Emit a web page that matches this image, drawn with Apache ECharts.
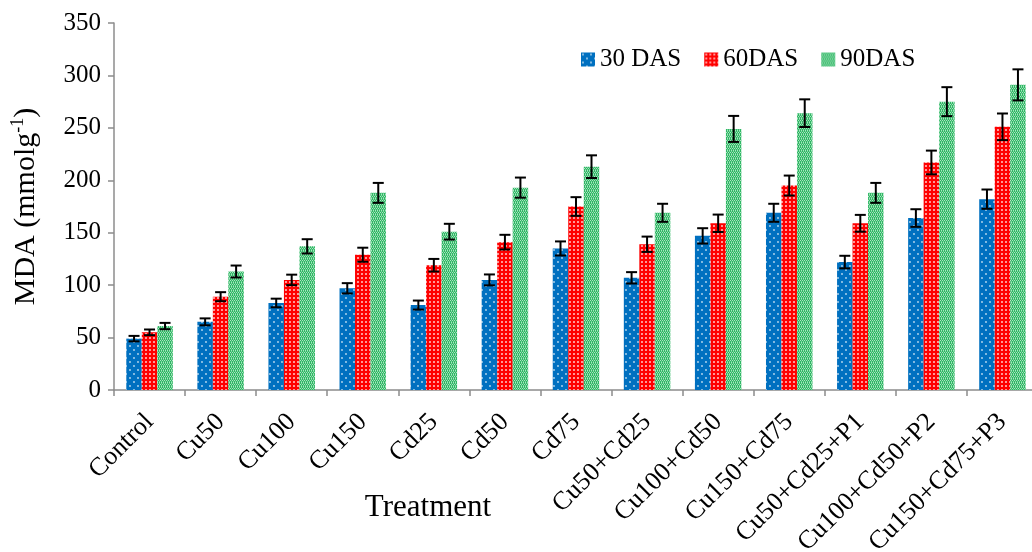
<!DOCTYPE html>
<html>
<head>
<meta charset="utf-8">
<script src="https://cdn.jsdelivr.net/npm/echarts@6/dist/echarts.min.js"></script>
<style>html,body{margin:0;padding:0;background:#fff}#chart{width:1032px;height:552px}</style>
</head>
<body>
<div id="chart"></div>
<script>
// ---- data ----
const categories = ['Control','Cu50','Cu100','Cu150','Cd25','Cd50','Cd75','Cu50+Cd25','Cu100+Cd50','Cu150+Cd75','Cu50+Cd25+P1','Cu100+Cd50+P2','Cu150+Cd75+P3'];
const seriesNames = ['30 DAS','60DAS','90DAS'];
const das30 = [49, 65, 83, 97, 81, 105, 135, 107, 147, 169, 122, 164, 182];
const das60 = [55, 89, 105, 129, 119, 141, 175, 139, 159, 195, 159, 217, 251];
const das90 = [61, 113, 137, 188, 151, 193, 213, 169, 249, 264, 188, 275, 291];
const err30 = [2.6, 3.3, 4.1, 4.9, 4.3, 5.2, 6.7, 5.4, 7.3, 8.6, 6.0, 8.4, 9.2];
const err60 = [2.7, 4.3, 5.0, 6.7, 6.0, 7.0, 8.9, 7.3, 8.3, 9.5, 8.0, 11.3, 12.7];
const err90 = [3.0, 5.7, 6.8, 9.5, 7.5, 9.6, 10.8, 8.6, 12.4, 13.2, 9.5, 13.8, 14.8];
const yTicks = [0, 50, 100, 150, 200, 250, 300, 350];

// ---- patterns ----
function makePattern(base, size, draw) {
  const c = document.createElement('canvas');
  c.width = size; c.height = size;
  const g = c.getContext('2d');
  g.fillStyle = base; g.fillRect(0, 0, size, size);
  draw(g);
  return { image: c, repeat: 'repeat' };
}
const bluePat = makePattern('#0070C0', 8, g => {
  g.fillStyle = 'rgba(255,255,255,0.75)';
  g.beginPath(); g.arc(2, 2, 0.9, 0, Math.PI * 2); g.fill();
  g.beginPath(); g.arc(6, 6, 0.9, 0, Math.PI * 2); g.fill();
});
const redPat = makePattern('#FF0000', 4, g => {
  g.fillStyle = 'rgba(255,255,255,0.85)';
  g.beginPath(); g.arc(2, 2, 0.95, 0, Math.PI * 2); g.fill();
});
const greenPat = makePattern('#2EB864', 8, g => {
  g.fillStyle = 'rgba(255,255,255,0.6)';
  for (let y = 0; y < 8; y += 2) for (let x = (y / 2) % 2; x < 8; x += 2) g.fillRect(x, y, 1, 1);
  g.fillStyle = 'rgba(255,255,255,0.35)';
  for (let y = 1; y < 8; y += 2) for (let x = 0; x < 8; x += 2) g.fillRect(x + 1, y, 1, 1);
});

const FONT = '"Liberation Serif", "Times New Roman", serif';
const BAR_FRAC = 0.218;
const values = [das30, das60, das90];
const errs = [err30, err60, err90];
const pats = [bluePat, redPat, greenPat];

const errData = [];
values.forEach((arr, s) => arr.forEach((v, i) => errData.push([i, v, errs[s][i], s])));

function renderErr(params, api) {
  const i = api.value(0), v = api.value(1), e = api.value(2), s = api.value(3);
  const band = api.size([1, 0])[0];
  const c = api.coord([i, v]);
  const x = c[0] + (s - 1) * band * BAR_FRAC;
  const yt = api.coord([i, v + e])[1];
  const yb = api.coord([i, v - e])[1];
  const hw = 5.5;
  const st = { stroke: '#000', lineWidth: 2 };
  return {
    type: 'group',
    children: [
      { type: 'line', shape: { x1: x, y1: yt, x2: x, y2: yb }, style: st },
      { type: 'line', shape: { x1: x - hw, y1: yt, x2: x + hw, y2: yt }, style: st },
      { type: 'line', shape: { x1: x - hw, y1: yb, x2: x + hw, y2: yb }, style: st }
    ]
  };
}

const chart = echarts.init(document.getElementById('chart'));
chart.setOption({
  animation: false,
  backgroundColor: '#fff',
  textStyle: { fontFamily: FONT, color: '#000' },
  grid: { left: 114, top: 23, right: -6, bottom: 162, containLabel: false, outerBoundsMode: 'none' },
  legend: {
    data: seriesNames,
    left: 576, top: 42,
    icon: 'rect', itemWidth: 14, itemHeight: 14, itemGap: 23,
    textStyle: { fontFamily: FONT, fontSize: 25, color: '#000' }
  },
  xAxis: {
    type: 'category',
    data: categories,
    axisLine: { lineStyle: { color: '#8c8c8c', width: 1.5 } },
    axisTick: { show: true, length: 6, lineStyle: { color: '#8c8c8c', width: 1.5 } },
    axisLabel: { rotate: 45, fontFamily: FONT, fontSize: 26, color: '#000', margin: 28, interval: 0 },
    splitLine: { show: false }
  },
  yAxis: {
    type: 'value',
    min: yTicks[0], max: yTicks[yTicks.length - 1], interval: 50,
    name: 'MDA (mmolg{sup|-1})',
    nameLocation: 'middle',
    nameGap: 71,
    nameTextStyle: {
      fontFamily: FONT, fontSize: 30, color: '#000', lineHeight: 34,
      rich: { sup: { fontFamily: FONT, fontSize: 18, color: '#000', verticalAlign: 'top', lineHeight: 34, padding: [0, 0, 14, 0] } }
    },
    axisLine: { show: true, lineStyle: { color: '#8c8c8c', width: 1.5 } },
    axisTick: { show: true, length: 6, lineStyle: { color: '#8c8c8c', width: 1.5 } },
    axisLabel: { fontFamily: FONT, fontSize: 25, color: '#000', margin: 13 },
    splitLine: { show: false }
  },
  graphic: [{
    type: 'text', x: 428, y: 508,
    style: { text: 'Treatment', fontFamily: FONT, fontSize: 31, fill: '#000', textAlign: 'center', textVerticalAlign: 'middle' }
  }],
  series: [
    ...seriesNames.map((n, s) => ({
      name: n, type: 'bar', data: values[s],
      barWidth: (BAR_FRAC * 100) + '%', barGap: '0%',
      itemStyle: { color: pats[s] }
    })),
    {
      name: 'err', type: 'custom', renderItem: renderErr, data: errData,
      encode: { x: 0, y: 1 }, z: 10, silent: true
    }
  ]
});
</script>
</body>
</html>
